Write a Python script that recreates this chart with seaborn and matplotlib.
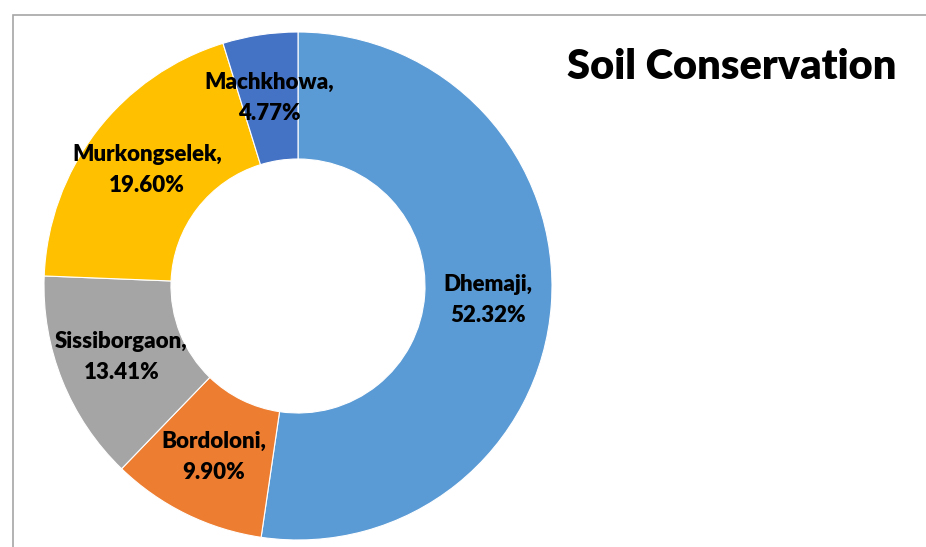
import matplotlib
matplotlib.use("Agg")
import matplotlib.pyplot as plt
import seaborn as sns

# data
districts = ["Dhemaji", "Bordoloni", "Sissiborgaon", "Murkongselek", "Machkhowa"]
shares = [52.32, 9.90, 13.41, 19.60, 4.77]
colors = ["#5B9BD5", "#ED7D31", "#A5A5A5", "#FFC000", "#4472C4"]
title = "Soil Conservation"

sns.set_theme(style="white")
plt.rcParams["font.family"] = ["Lato", "DejaVu Sans"]

W, H, DPI = 926, 547, 100
fig = plt.figure(figsize=(W / DPI, H / DPI), dpi=DPI)

# pie placed by pixel centre / radius
cx, cy, r = 298, 286, 254
ax = fig.add_axes([(cx - r) / W, (H - cy - r) / H, 2 * r / W, 2 * r / H])

labels = [f"{d},\n{s:.2f}%" for d, s in zip(districts, shares)]
wedges, texts = ax.pie(
    shares,
    labels=labels,
    colors=colors,
    startangle=90,
    counterclock=False,
    labeldistance=0.75,
    wedgeprops=dict(width=0.5, edgecolor="white", linewidth=0.8),
    textprops=dict(fontsize=16, fontweight="heavy", color="black"),
)
for t in texts:
    t.set_ha("center")
    t.set_va("center")
    t.set_multialignment("center")
    t.set_linespacing(1.6)

ax.set_xlim(-1, 1)
ax.set_ylim(-1, 1)
ax.set_aspect("equal")
ax.axis("off")

# chart area border (cropped on right and bottom)
border = plt.Rectangle((12.5 / W, -0.2), 1.2, (H - 15) / H + 0.2,
                       transform=fig.transFigure, fill=False,
                       edgecolor="#A6A6A6", linewidth=1.2)
fig.add_artist(border)

fig.text(732 / W, 1 - 67 / H, title, fontsize=30, fontweight="heavy",
         ha="center", va="center", color="black")

fig.savefig("out.png", dpi=DPI, facecolor="white")
